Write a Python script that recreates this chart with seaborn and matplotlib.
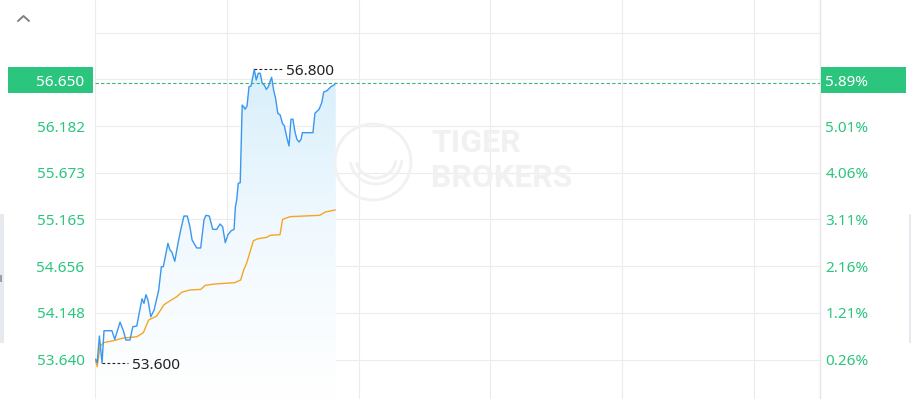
import numpy as np
import pandas as pd
import matplotlib
matplotlib.use("Agg")
import matplotlib.pyplot as plt
import seaborn as sns
from matplotlib.patches import Rectangle, Ellipse, Arc
from matplotlib.lines import Line2D
from matplotlib.colors import LinearSegmentedColormap

# ---------------- data ----------------
price_minutes = [0.3, 1.0, 2.0, 3.2, 4.1, 7.7, 9.0, 11.4, 12.9, 14.1, 15.9, 17.2, 19.0,
                 21.4, 22.3, 23.2, 24.1, 25.4, 26.9, 29.0, 30.2, 31.1, 33.2, 34.1, 35.0,
                 36.3, 37.8, 39.0, 40.5, 42.0, 43.2, 44.2, 46.3, 48.1, 49.6, 50.5, 52.0,
                 53.6, 55.4, 56.9, 58.1, 59.3, 60.5, 62.0, 63.3, 63.9, 64.5, 65.0, 65.2,
                 66.1, 67.0, 67.7, 68.3, 69.2, 70.1, 71.0, 71.9, 72.5, 73.4, 74.3, 75.2,
                 76.1, 77.1, 78.0, 78.9, 79.8, 80.4, 81.3, 82.2, 83.2, 84.3, 85.3, 86.2,
                 87.4, 88.3, 89.2, 90.1, 91.0, 91.9, 92.9, 93.8, 94.4, 99.2, 100.1, 102.0,
                 103.2, 104.1, 105.6, 107.4, 108.6, 109.6]
price_values = [53.642, 53.605, 53.896, 53.600, 53.954, 53.954, 53.860, 54.048, 53.954,
                53.852, 53.852, 53.997, 54.005, 54.302, 54.252, 54.346, 54.288, 54.106,
                54.179, 54.397, 54.651, 54.651, 54.906, 54.833, 54.811, 54.710, 54.906,
                55.051, 55.203, 55.203, 55.087, 54.942, 54.855, 54.855, 55.160, 55.211,
                55.203, 55.058, 55.058, 55.116, 55.087, 54.912, 54.999, 55.043, 55.058,
                55.304, 55.377, 55.505, 55.559, 55.566, 56.412, 56.394, 56.366, 56.401,
                56.612, 56.619, 56.728, 56.800, 56.685, 56.758, 56.758, 56.649, 56.627,
                56.583, 56.612, 56.677, 56.714, 56.576, 56.485, 56.322, 56.303, 56.213,
                56.184, 56.050, 55.966, 56.257, 56.257, 56.122, 56.039, 56.009, 56.039,
                56.111, 56.111, 56.322, 56.366, 56.437, 56.554, 56.568, 56.612, 56.627,
                56.650]

avg_minutes = [0.1, 1.0, 2.3, 3.8, 8.3, 12.9, 19.0, 22.0, 24.4, 28.1, 31.4, 34.7, 37.2,
               39.6, 43.2, 48.1, 50.2, 54.2, 63.6, 66.3, 67.8, 69.0, 72.1, 74.2, 78.2,
               79.7, 84.2, 85.4, 88.8, 102.4, 104.8, 109.4]
avg_values = [53.642, 53.562, 53.779, 53.823, 53.845, 53.874, 53.888, 53.932, 54.070,
              54.114, 54.237, 54.288, 54.324, 54.375, 54.397, 54.404, 54.448, 54.462,
              54.477, 54.506, 54.623, 54.688, 54.934, 54.956, 54.971, 54.993, 55.000,
              55.167, 55.196, 55.211, 55.247, 55.269]

left_ticks = [53.640, 54.1485, 54.657, 55.1655, 55.674, 56.1825]
left_tick_labels = ["53.640", "54.148", "54.656", "55.165", "55.673", "56.182"]
right_tick_labels = ["0.26%", "1.21%", "2.16%", "3.11%", "4.06%", "5.01%"]
grid_levels = [53.640, 54.1485, 54.657, 55.1655, 55.674, 56.1825, 56.691, 57.1995]
time_grid = [0, 60, 120, 180, 240, 300]
session_minutes = 330
last_price = 56.650
last_price_label = "56.650"
last_pct_label = "5.89%"
high_label = "56.800"
low_label = "53.600"
watermark_lines = ["TIGER", "BROKERS"]

# ---------------- style ----------------
W, H = 912, 399
sns.set_theme(style="white")
plt.rcParams['font.family'] = ['Noto Sans', 'DejaVu Sans']
GREEN = '#2bc57d'
BLUE = '#3a97ef'
ORANGE = '#f5a623'
GRID = '#ececec'

fig = plt.figure(figsize=(W / 100, H / 100), dpi=100)
fig.patch.set_facecolor('white')


def fx(px):
    return px / W


def fy(py):
    return 1 - py / H


ax = fig.add_axes([fx(95), 0, fx(820) - fx(95), 1])
ax.set_facecolor('white')
ax.set_xlim(0, session_minutes)
ybot, ytop = 53.210, 57.556
ax.set_ylim(ybot, ytop)
for s in ax.spines.values():
    s.set_visible(False)

# grid
for g in grid_levels:
    ax.axhline(g, color=GRID, lw=0.8, zorder=0)
for t in time_grid:
    ax.axvline(t, color=GRID, lw=0.8, zorder=0)
ax.axvline(session_minutes, color='#e2e5ea', lw=1.0, zorder=0, clip_on=False)

# watermark
wm = '#f1f1f1'
fig.add_artist(Ellipse((fx(373), fy(162)), 76 / W, 76 / H, transform=fig.transFigure,
                       fill=False, ec=wm, lw=2.0, zorder=0.5))
fig.add_artist(Arc((fx(376), fy(158)), 52 / W, 52 / H, angle=0, theta1=200, theta2=350,
                   transform=fig.transFigure, ec=wm, lw=2.0, zorder=0.5))
fig.add_artist(Arc((fx(376), fy(158)), 40 / W, 40 / H, angle=0, theta1=205, theta2=345,
                   transform=fig.transFigure, ec=wm, lw=2.0, zorder=0.5))
fig.text(fx(431), fy(143), watermark_lines[0], fontsize=23, fontweight='bold', color=wm,
         va='center', ha='left', family='Roboto', zorder=0.5)
fig.text(fx(431), fy(178), watermark_lines[1], fontsize=23, fontweight='bold', color=wm,
         va='center', ha='left', family='Roboto', zorder=0.5)

# gradient fill under price
poly = ax.fill_between(price_minutes, price_values, ybot, color='none', lw=0)
grad = np.linspace(0, 1, 256).reshape(-1, 1)
cmap = LinearSegmentedColormap.from_list('g', ['#ffffff', '#f1f9fe', '#d8effc'])
im = ax.imshow(grad, extent=[min(price_minutes), max(price_minutes), ybot, max(price_values)],
               origin='lower', cmap=cmap, aspect='auto', zorder=1, interpolation='bilinear')
im.set_clip_path(poly.get_paths()[0], transform=ax.transData)
ax.set_xlim(0, session_minutes)
ax.set_ylim(ybot, ytop)

# lines
df_p = pd.DataFrame({'m': price_minutes, 'v': price_values})
df_a = pd.DataFrame({'m': avg_minutes, 'v': avg_values})
sns.lineplot(data=df_a, x='m', y='v', ax=ax, color=ORANGE, lw=1.0, estimator=None, sort=False, zorder=3)
sns.lineplot(data=df_p, x='m', y='v', ax=ax, color=BLUE, lw=1.0, estimator=None, sort=False, zorder=4)
ax.set_xlabel('')
ax.set_ylabel('')
ax.set_xticks([])

# last price dashed line
ax.axhline(last_price, color='#37b878', lw=0.8, ls=(0, (3, 2)), zorder=5)

# high / low annotations
hi_i = int(np.argmax(price_values))
lo_i = int(np.argmin(price_values))
hx, hv = price_minutes[hi_i], price_values[hi_i]
lx, lv = price_minutes[lo_i], price_values[lo_i]
ax.plot([hx, hx + 12.6], [hv, hv], color='#222222', lw=0.8, ls=(0, (2.5, 2)), zorder=6)
ax.text(hx + 14.3, hv, high_label, fontsize=11, color='#222222', va='center_baseline', ha='left', zorder=6)
ax.plot([lx, lx + 11.9], [lv, lv], color='#222222', lw=0.8, ls=(0, (2.5, 2)), zorder=6)
ax.text(lx + 13.6, lv, low_label, fontsize=11, color='#222222', va='center_baseline', ha='left', zorder=6)

# axis labels
ax.set_yticks(left_ticks, labels=left_tick_labels)
ax.tick_params(axis='y', length=0, pad=7.5, labelcolor=GREEN, labelsize=11)
ax2 = ax.twinx()
ax2.set_ylim(ybot, ytop)
for s in ax2.spines.values():
    s.set_visible(False)
ax2.set_yticks(left_ticks, labels=right_tick_labels)
ax2.tick_params(axis='y', length=0, pad=3.8, labelcolor=GREEN, labelsize=11)
ax2.grid(False)
ax.grid(False)

# last price boxes
fig.add_artist(Rectangle((fx(8), fy(93)), fx(93) - fx(8), fy(67) - fy(93),
                         transform=fig.transFigure, color=GREEN, lw=0, zorder=7))
fig.text(fx(84), fy(80.5), last_price_label, fontsize=11, color='white', ha='right',
         va='center_baseline', zorder=8)
fig.add_artist(Rectangle((fx(821), fy(93)), fx(906) - fx(821), fy(67) - fy(93),
                         transform=fig.transFigure, color=GREEN, lw=0, zorder=7))
fig.text(fx(825), fy(80.5), last_pct_label, fontsize=11, color='white', ha='left',
         va='center_baseline', zorder=8)

# collapse chevron
fig.add_artist(Line2D([fx(18), fx(23.5), fx(29)], [fy(21), fy(16), fy(21)],
                      transform=fig.transFigure, color='#808080', lw=1.4))

# side panels (UI artifacts)
fig.add_artist(Rectangle((0, fy(343)), fx(4), fy(214) - fy(343), transform=fig.transFigure,
                         color='#e6e9ee', lw=0, zorder=0))
fig.add_artist(Rectangle((fx(0), fy(282)), fx(2), fy(275) - fy(282), transform=fig.transFigure,
                         color='#9aa0a8', lw=0, zorder=0))
fig.add_artist(Rectangle((fx(909), fy(343)), fx(3), fy(214) - fy(343), transform=fig.transFigure,
                         color='#e6e9ee', lw=0, zorder=0))

fig.savefig('out.png', dpi=100, facecolor='white')
